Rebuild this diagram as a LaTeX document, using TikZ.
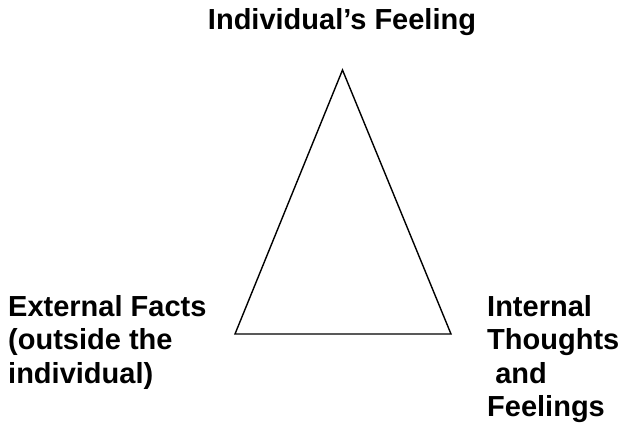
\documentclass[tikz,border=0pt]{standalone}
\usepackage{fontspec}
\setmainfont{Liberation Sans}
\usetikzlibrary{positioning}

\begin{document}
\begin{tikzpicture}[x=1pt, y=-1pt,
    cornerlabel/.style={inner sep=0pt, align=left, font=\bfseries\fontsize{29}{33.5}\selectfont},
    sideline/.style={line width=1.4pt, line join=miter}]
  \useasboundingbox (0,0) rectangle (622,423);
  % triangle corners
  \coordinate (apex) at (342.5,70);
  \coordinate (baseL) at (235,334);
  \coordinate (baseR) at (451,334);
  \draw[sideline] (apex) -- (baseR) -- (baseL) -- cycle;
  % labels
  \node[cornerlabel, anchor=base] (feeling) at (342,30) {Individual’s Feeling};
  \node[cornerlabel, anchor=north west] (external) at (8,295)
    {External Facts\\(outside the\\individual)};
  \node[cornerlabel, anchor=north west] (internal) at (487,295)
    {Internal\\Thoughts\\\ and\\Feelings};
\end{tikzpicture}
\end{document}
